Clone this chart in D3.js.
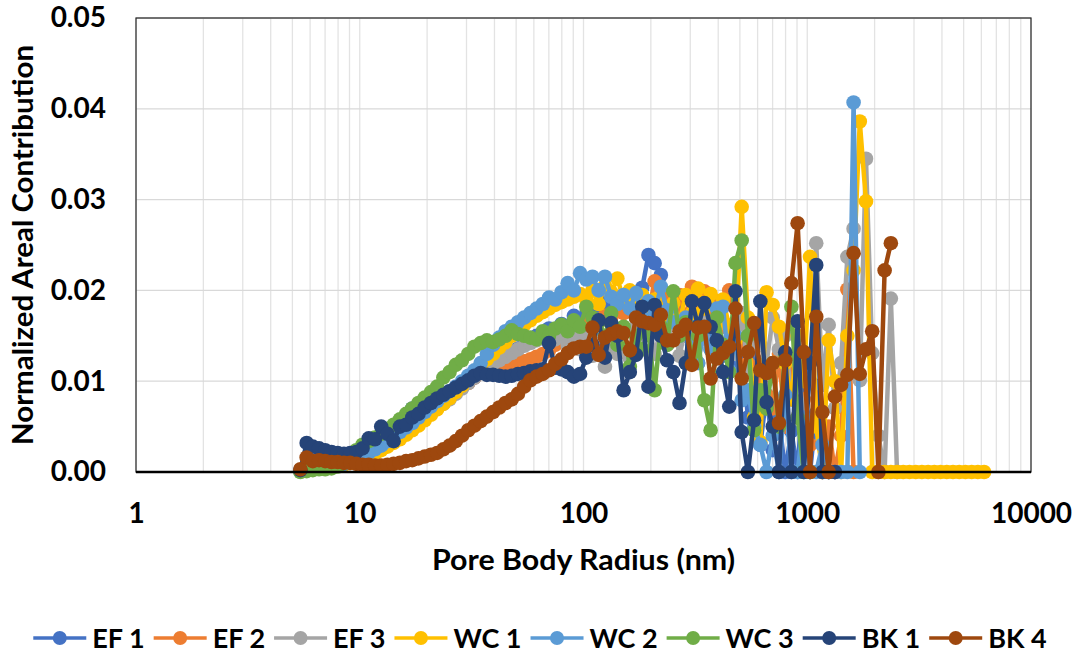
<!DOCTYPE html>
<html><head><meta charset="utf-8">
<script src="https://cdn.jsdelivr.net/npm/d3@7"></script>
<style>
body{margin:0;background:#fff;}
svg{display:block;}
text{font-family:Lato,"Open Sans",sans-serif;font-weight:700;fill:#000;}
</style>
</head><body>
<svg id="chart" width="1079" height="653"></svg>
<script>
// ---- data ----
const radii = [
5.43,5.79,6.17,6.58,7.01,7.48,7.97,8.50,9.06,9.65,
10.29,10.97,11.69,12.47,13.30,14.17,15.11,16.11,17.17,18.30,
19.51,20.80,22.17,23.64,25.20,26.86,28.64,30.53,32.54,34.69,
36.99,39.43,42.03,44.81,47.78,50.93,54.29,57.87,61.70,65.78,
70.12,74.75,79.69,84.95,90.56,96.54,102.9,109.7,116.9,124.7,
133.0,141.7,151.1,161.1,171.7,183.0,195.1,208.0,221.7,236.4,
252.0,268.6,286.4,305.3,325.4,346.9,369.9,394.3,420.3,448.1,
477.8,509.3,542.9,578.7,617.0,657.8,701.2,747.5,796.9,849.5,
905.6,965.4,1029,1097,1169,1247,1330,1417,1511,1611,
1717,1830,1951,2080,2217,2364,2520,2686,2864,3053,
3254,3469,3699,3943,4203,4481,4778,5093,5429,5787,
6170];

const seriesNames = ["EF 1","EF 2","EF 3","WC 1","WC 2","WC 3","BK 1","BK 4"];
const seriesColors = ["#4472C4","#ED7D31","#A5A5A5","#FFC000","#5B9BD5","#70AD47","#264478","#9E480E"];

const ef1 = [
0.0002,0.0005,0.0008,0.0009,0.0010,0.0011,0.0012,0.0013,0.0015,0.0018,
0.0021,0.0025,0.0030,0.0034,0.0040,0.0046,0.0054,0.0061,0.0070,0.0072,
0.0073,0.0075,0.0078,0.0081,0.0086,0.0090,0.0096,0.0099,0.0104,0.0110,
0.0113,0.0118,0.0122,0.0125,0.0131,0.0136,0.0140,0.0145,0.0150,0.0148,
0.0158,0.0155,0.0163,0.0160,0.0172,0.0168,0.0175,0.0180,0.0171,0.0186,
0.0176,0.0190,0.0182,0.0194,0.0170,0.0203,0.0239,0.0230,0.0217,0.0190,
0.0175,0.0188,0.0150,0.0196,0.0162,0.0180,0.0140,0.0185,0.0128,0.0160,
0.0115,0.0140,0.0060,0.0125,0.0030,0.0085,0.0024,0.0060,0.0000,0.0045,
0.0000,0.0110,0.0000,0.0065,0.0000,0.0000,0.0000];

const ef2 = [
0.0001,0.0003,0.0005,0.0006,0.0007,0.0008,0.0009,0.0010,0.0012,0.0014,
0.0017,0.0020,0.0024,0.0028,0.0032,0.0037,0.0042,0.0047,0.0052,0.0058,
0.0063,0.0068,0.0073,0.0078,0.0083,0.0088,0.0093,0.0098,0.0104,0.0109,
0.0112,0.0114,0.0115,0.0116,0.0118,0.0120,0.0122,0.0124,0.0127,0.0130,
0.0134,0.0140,0.0146,0.0150,0.0155,0.0160,0.0163,0.0168,0.0165,0.0172,
0.0170,0.0178,0.0175,0.0182,0.0180,0.0188,0.0176,0.0210,0.0185,0.0192,
0.0178,0.0195,0.0170,0.0204,0.0185,0.0199,0.0175,0.0188,0.0160,0.0200,
0.0165,0.0140,0.0120,0.0150,0.0100,0.0085,0.0070,0.0130,0.0050,0.0110,
0.0060,0.0080,0.0030,0.0095,0.0000,0.0050,0.0000,0.0040,0.0201,0.0000];

const ef3 = [
0.0001,0.0003,0.0004,0.0005,0.0006,0.0007,0.0008,0.0009,0.0011,0.0013,
0.0016,0.0019,0.0023,0.0027,0.0031,0.0036,0.0040,0.0045,0.0050,0.0055,
0.0060,0.0065,0.0070,0.0075,0.0080,0.0086,0.0092,0.0098,0.0104,0.0110,
0.0115,0.0119,0.0123,0.0127,0.0131,0.0135,0.0139,0.0142,0.0145,0.0148,
0.0150,0.0146,0.0152,0.0140,0.0148,0.0135,0.0150,0.0128,0.0145,0.0116,
0.0140,0.0130,0.0155,0.0125,0.0160,0.0135,0.0165,0.0130,0.0158,0.0140,
0.0170,0.0128,0.0160,0.0150,0.0120,0.0165,0.0135,0.0170,0.0140,0.0160,
0.0130,0.0175,0.0110,0.0160,0.0140,0.0120,0.0170,0.0135,0.0150,0.0080,
0.0120,0.0060,0.0100,0.0252,0.0096,0.0162,0.0070,0.0120,0.0237,0.0268,
0.0101,0.0345,0.0131,0.0040,0.0000,0.0191,0.0000];

const wc1 = [
0.0001,0.0002,0.0003,0.0004,0.0005,0.0006,0.0007,0.0008,0.0010,0.0012,
0.0014,0.0017,0.0020,0.0024,0.0028,0.0032,0.0036,0.0041,0.0046,0.0051,
0.0057,0.0063,0.0069,0.0075,0.0081,0.0088,0.0095,0.0102,0.0110,0.0117,
0.0124,0.0130,0.0137,0.0143,0.0150,0.0156,0.0162,0.0167,0.0172,0.0176,
0.0180,0.0184,0.0187,0.0190,0.0193,0.0196,0.0190,0.0200,0.0185,0.0205,
0.0198,0.0213,0.0190,0.0200,0.0185,0.0195,0.0175,0.0190,0.0180,0.0170,
0.0186,0.0165,0.0195,0.0175,0.0202,0.0180,0.0196,0.0165,0.0190,0.0160,
0.0145,0.0292,0.0170,0.0060,0.0033,0.0198,0.0184,0.0160,0.0120,0.0080,
0.0150,0.0100,0.0237,0.0050,0.0000,0.0145,0.0100,0.0000,0.0150,0.0222,
0.0386,0.0298,0.0000,0.0000,0.0000,0.0000,0.0000,0.0000,0.0000,0.0000,
0.0000,0.0000,0.0000,0.0000,0.0000,0.0000,0.0000,0.0000,0.0000,0.0000,
0.0000];

const wc2 = [
0.0001,0.0002,0.0003,0.0004,0.0005,0.0006,0.0007,0.0009,0.0011,0.0014,
0.0017,0.0021,0.0025,0.0029,0.0034,0.0039,0.0044,0.0049,0.0054,0.0060,
0.0066,0.0072,0.0078,0.0084,0.0089,0.0094,0.0100,0.0106,0.0112,0.0120,
0.0130,0.0140,0.0148,0.0155,0.0160,0.0165,0.0170,0.0175,0.0180,0.0185,
0.0192,0.0190,0.0198,0.0208,0.0200,0.0219,0.0212,0.0215,0.0200,0.0215,
0.0193,0.0185,0.0195,0.0180,0.0197,0.0170,0.0188,0.0175,0.0204,0.0178,
0.0165,0.0150,0.0170,0.0140,0.0120,0.0160,0.0135,0.0180,0.0182,0.0112,
0.0150,0.0079,0.0090,0.0050,0.0030,0.0000,0.0040,0.0000,0.0085,0.0000,
0.0000,0.0060,0.0000,0.0000,0.0030,0.0000,0.0000,0.0000,0.0000,0.0407,
0.0000];

const wc3 = [
0.0000,0.0001,0.0002,0.0003,0.0003,0.0004,0.0006,0.0010,0.0016,0.0024,
0.0030,0.0034,0.0038,0.0042,0.0047,0.0052,0.0058,0.0064,0.0070,0.0076,
0.0082,0.0088,0.0094,0.0104,0.0110,0.0118,0.0123,0.0130,0.0138,0.0142,
0.0145,0.0143,0.0146,0.0150,0.0156,0.0152,0.0150,0.0148,0.0146,0.0155,
0.0150,0.0158,0.0162,0.0155,0.0167,0.0160,0.0182,0.0170,0.0165,0.0150,
0.0175,0.0140,0.0160,0.0116,0.0150,0.0135,0.0155,0.0090,0.0160,0.0140,
0.0199,0.0150,0.0165,0.0130,0.0150,0.0079,0.0046,0.0170,0.0140,0.0110,
0.0230,0.0255,0.0150,0.0046,0.0090,0.0070,0.0120,0.0050,0.0130,0.0182,
0.0060,0.0000,0.0000];

const bk1 = [
0.0002,0.0032,0.0028,0.0026,0.0024,0.0022,0.0021,0.0020,0.0021,0.0022,
0.0026,0.0037,0.0036,0.0050,0.0042,0.0034,0.0050,0.0052,0.0060,0.0064,
0.0071,0.0076,0.0081,0.0085,0.0089,0.0093,0.0097,0.0101,0.0106,0.0109,
0.0107,0.0107,0.0106,0.0105,0.0106,0.0108,0.0109,0.0111,0.0112,0.0113,
0.0142,0.0115,0.0113,0.0110,0.0105,0.0108,0.0126,0.0140,0.0167,0.0126,
0.0164,0.0150,0.0090,0.0110,0.0129,0.0182,0.0094,0.0184,0.0150,0.0123,
0.0110,0.0076,0.0120,0.0188,0.0160,0.0186,0.0160,0.0145,0.0110,0.0072,
0.0199,0.0044,0.0000,0.0057,0.0188,0.0077,0.0050,0.0000,0.0132,0.0000,
0.0166,0.0000,0.0120,0.0228,0.0000,0.0000,0.0000];

const bk4 = [
0.0003,0.0016,0.0012,0.0013,0.0012,0.0011,0.0011,0.0010,0.0010,0.0009,
0.0008,0.0008,0.0007,0.0007,0.0008,0.0009,0.0010,0.0012,0.0013,0.0015,
0.0017,0.0019,0.0021,0.0025,0.0029,0.0034,0.0040,0.0046,0.0051,0.0056,
0.0061,0.0066,0.0071,0.0076,0.0080,0.0086,0.0094,0.0101,0.0105,0.0108,
0.0112,0.0119,0.0124,0.0131,0.0136,0.0138,0.0138,0.0159,0.0129,0.0148,
0.0152,0.0155,0.0153,0.0134,0.0170,0.0166,0.0164,0.0162,0.0173,0.0145,
0.0145,0.0155,0.0162,0.0118,0.0159,0.0160,0.0103,0.0125,0.0131,0.0138,
0.0180,0.0103,0.0132,0.0164,0.0112,0.0109,0.0120,0.0054,0.0123,0.0208,
0.0274,0.0132,0.0000,0.0171,0.0066,0.0000,0.0083,0.0096,0.0107,0.0241,
0.0108,0.0135,0.0155,0.0000,0.0222,0.0252];

const seriesValues = [ef1, ef2, ef3, wc1, wc2, wc3, bk1, bk4];

const xTickValues = [1, 10, 100, 1000, 10000];
const xTickLabels = ["1", "10", "100", "1000", "10000"];
const xGridValues = [1,2,3,4,5,6,7,8,9,10,20,30,40,50,60,70,80,90,100,200,300,400,500,600,700,800,900,1000,2000,3000,4000,5000,6000,7000,8000,9000,10000];
const yTickValues = [0, 0.01, 0.02, 0.03, 0.04, 0.05];
const yTickLabels = ["0.00", "0.01", "0.02", "0.03", "0.04", "0.05"];
const xTitle = "Pore Body Radius (nm)";
const yTitle = "Normalized Areal Contribution";

// ---- layout ----
const L = 136, R = 1031, T = 18, B = 472;
const svg = d3.select("#chart");
const x = d3.scaleLog().domain([1, 10000]).range([L, R]);
const y = d3.scaleLinear().domain([0, 0.05]).range([B, T]);

// gridlines
svg.append("g").selectAll("line").data(xGridValues).join("line")
  .attr("x1", d => x(d)).attr("x2", d => x(d)).attr("y1", T).attr("y2", B)
  .attr("stroke", "#E3E3E3").attr("stroke-width", 1.3);
svg.append("g").selectAll("line").data(yTickValues.slice(1)).join("line")
  .attr("x1", L).attr("x2", R).attr("y1", d => y(d)).attr("y2", d => y(d))
  .attr("stroke", "#D9D9D9").attr("stroke-width", 1.3);

// frame
svg.append("rect").attr("x", L).attr("y", T).attr("width", R - L).attr("height", B - T)
  .attr("fill", "none").attr("stroke", "#262626").attr("stroke-width", 1.2);

// series
const line = d3.line().x(d => x(d[0])).y(d => y(d[1]));
seriesValues.forEach((vals, i) => {
  const pts = vals.map((v, j) => [radii[j], v]);
  const g = svg.append("g");
  g.append("path").datum(pts).attr("d", line).attr("fill", "none")
    .attr("stroke", seriesColors[i]).attr("stroke-width", 4.5).attr("stroke-linejoin", "round");
  g.selectAll("circle").data(pts).join("circle")
    .attr("cx", d => x(d[0])).attr("cy", d => y(d[1])).attr("r", 7.3)
    .attr("fill", seriesColors[i]);
});

// bottom axis line
svg.append("line").attr("x1", L).attr("x2", R).attr("y1", B).attr("y2", B)
  .attr("stroke", "#000").attr("stroke-width", 2.5);

// axes (labels)
const xAxis = d3.axisBottom(x).tickValues(xTickValues)
  .tickFormat((d, i) => xTickLabels[i]).tickSize(0).tickPadding(31);
const gx = svg.append("g").attr("transform", `translate(0,${B})`).call(xAxis);
gx.select(".domain").remove();
gx.selectAll("text").style("font-family", "Lato").style("font-weight", 700).style("font-size", "28px").attr("fill", "#000");

const yAxis = d3.axisLeft(y).tickValues(yTickValues)
  .tickFormat((d, i) => yTickLabels[i]).tickSize(0).tickPadding(30);
const gy = svg.append("g").attr("transform", `translate(${L},0)`).call(yAxis);
gy.select(".domain").remove();
gy.selectAll("text").style("font-family", "Lato").style("font-weight", 700).style("font-size", "28px").attr("fill", "#000");

// titles
svg.append("text").attr("x", (L + R) / 2).attr("y", 570).attr("text-anchor", "middle")
  .style("font-size", "29px").attr("textLength", 303).attr("lengthAdjust", "spacingAndGlyphs").text(xTitle);
svg.append("text").attr("transform", `translate(33,${(T + B) / 2}) rotate(-90)`)
  .attr("text-anchor", "middle").style("font-size", "29px")
  .attr("textLength", 400).attr("lengthAdjust", "spacingAndGlyphs").text(yTitle);

// legend
const legY = 638, lineLen = 53, gap1 = 6, gap2 = 9;
const leg = svg.append("g");
const items = seriesNames.map((n, i) => {
  const g = leg.append("g");
  g.append("line").attr("x1", 0).attr("x2", lineLen).attr("y1", 0).attr("y2", 0)
    .attr("stroke", seriesColors[i]).attr("stroke-width", 3.5);
  g.append("circle").attr("cx", lineLen / 2).attr("cy", 0).attr("r", 7).attr("fill", seriesColors[i]);
  const t = g.append("text").attr("x", lineLen + gap1).attr("y", 10).style("font-size", "27px").text(n);
  return {g, w: lineLen + gap1 + t.node().getComputedTextLength()};
});
const total = d3.sum(items, d => d.w) + gap2 * (items.length - 1);
let cx = 540 - total / 2;
items.forEach(it => { it.g.attr("transform", `translate(${cx},${legY})`); cx += it.w + gap2; });
</script>
</body></html>
